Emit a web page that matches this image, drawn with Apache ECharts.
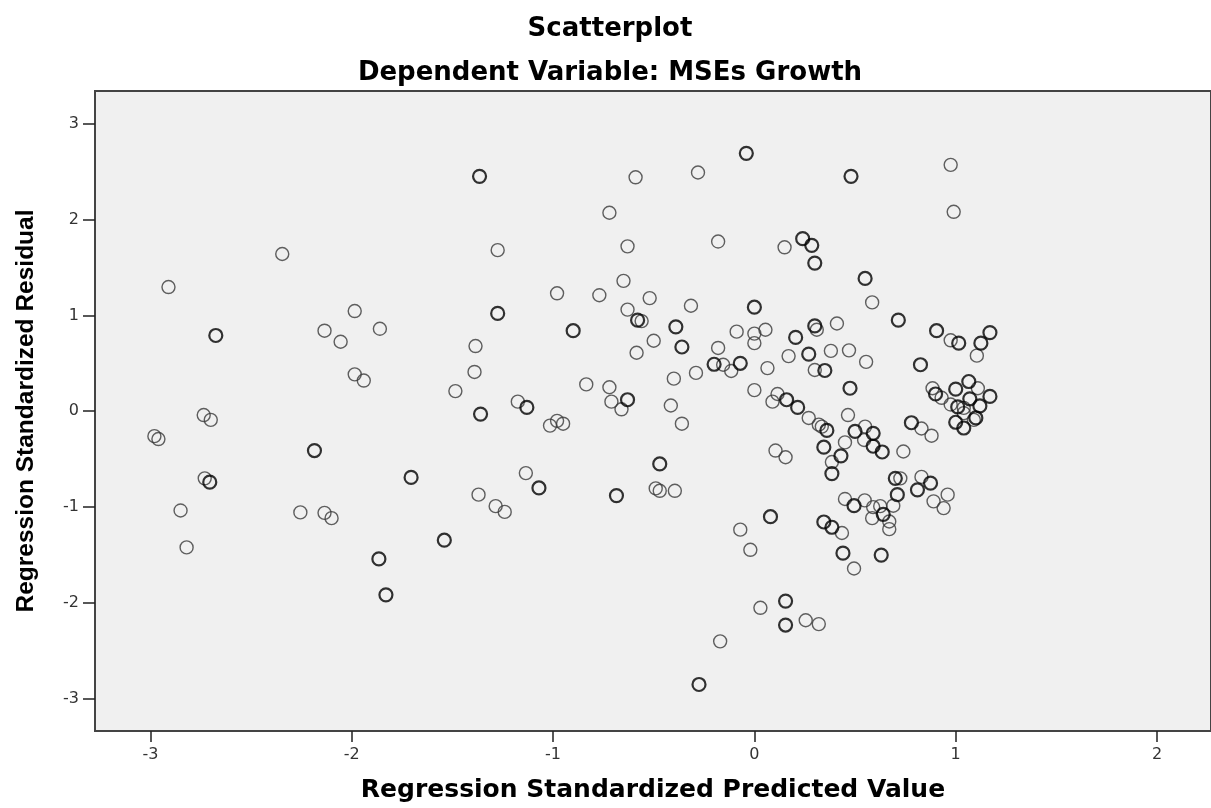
<!DOCTYPE html>
<html>
<head>
<meta charset="utf-8">
<title>Scatterplot</title>
<script src="https://cdn.jsdelivr.net/npm/echarts@6/dist/echarts.min.js"></script>
<style>
  html, body { margin: 0; padding: 0; background: #fff; }
  #chart { width: 1211px; height: 808px; }
</style>
</head>
<body>
<div id="chart"></div>
<script>
// values (standardized predicted value / residual)
// cases = 2 where two circles sit on top of each other (drawn darker)
var predicted = [
  -2.98, -2.96, -2.91, -2.85, -2.82, -2.735, -2.70, -2.73, -2.705, -2.675,
  -2.345, -2.255, -2.185, -2.135, -2.135, -2.10, -2.055, -1.985, -1.985, -1.94,
  -1.86, -1.865, -1.83, -1.705, -1.54, -1.485, -1.39, -1.385, -1.37, -1.365,
  -1.36, -1.285, -1.275, -1.275, -1.24, -1.175, -1.135, -1.13, -1.07, -1.015,
  -0.98, -0.98, -0.95, -0.90, -0.835, -0.77, -0.72, -0.72, -0.71, -0.685,
  -0.66, -0.65, -0.63, -0.63, -0.63, -0.59, -0.585, -0.58, -0.56, -0.52,
  -0.50, -0.49, -0.47, -0.47, -0.415, -0.39, -0.395, -0.40, -0.36, -0.36,
  -0.315, -0.29, -0.28, -0.275, -0.20, -0.18, -0.18, -0.17, -0.155, -0.115,
  -0.088, -0.07, -0.07, -0.04, -0.02, 0.0, 0.0, 0.0, 0.0, 0.03,
  0.055, 0.065, 0.08, 0.09, 0.105, 0.115, 0.15, 0.155, 0.155, 0.155,
  0.16, 0.17, 0.205, 0.215, 0.24, 0.255, 0.27, 0.27, 0.285, 0.30,
  0.30, 0.31, 0.30, 0.32, 0.32, 0.335, 0.345, 0.345, 0.35, 0.36,
  0.385, 0.385, 0.385, 0.38, 0.41, 0.43, 0.435, 0.44, 0.45, 0.45,
  0.465, 0.47, 0.475, 0.48, 0.495, 0.495, 0.50, 0.545, 0.55, 0.548,
  0.555, 0.55, 0.585, 0.59, 0.59, 0.59, 0.585, 0.625, 0.635, 0.64,
  0.63, 0.67, 0.67, 0.69, 0.70, 0.71, 0.725, 0.715, 0.74, 0.78,
  0.83, 0.83, 0.825, 0.875, 0.81, 0.88, 0.885, 0.89, 0.90, 0.905,
  0.93, 0.94, 0.96, 0.975, 0.975, 0.975, 0.99, 1.0, 1.0, 1.015,
  1.01, 1.04, 1.04, 1.04, 1.065, 1.07, 1.09, 1.10, 1.105, 1.11,
  1.12, 1.125, 1.17, 1.17
];
var residual = [
  -0.26, -0.29, 1.295, -1.035, -1.42, -0.04, -0.09, -0.70, -0.74, 0.79,
  1.64, -1.055, -0.41, 0.84, -1.06, -1.115, 0.725, 1.045, 0.385, 0.32,
  0.86, -1.54, -1.915, -0.69, -1.345, 0.21, 0.41, 0.68, -0.87, 2.45,
  -0.03, -0.99, 1.68, 1.02, -1.05, 0.10, -0.645, 0.04, -0.80, -0.15,
  1.23, -0.10, -0.13, 0.84, 0.28, 1.21, 2.07, 0.25, 0.10, -0.88,
  0.02, 1.36, 1.72, 1.06, 0.12, 2.44, 0.61, 0.95, 0.94, 1.18,
  0.735, -0.805, -0.83, -0.55, 0.06, 0.88, -0.83, 0.34, 0.67, -0.13,
  1.10, 0.40, 2.49, -2.85, 0.49, 1.77, 0.66, -2.40, 0.485, 0.42,
  0.83, 0.50, -1.235, 2.69, -1.445, 0.71, 0.81, 1.085, 0.22, -2.05,
  0.85, 0.45, -1.10, 0.10, -0.41, 0.18, 1.71, -0.48, -1.98, -2.23,
  0.12, 0.575, 0.77, 0.04, 1.80, -2.18, 0.595, -0.07, 1.73, 1.545,
  0.89, 0.85, 0.43, -0.14, -2.22, -0.16, -0.375, -1.155, 0.425, -0.20,
  -0.53, -0.65, -1.21, 0.63, 0.915, -0.465, -1.27, -1.48, -0.325, -0.915,
  -0.04, 0.635, 0.24, 2.45, -0.985, -1.64, -0.21, -0.30, -0.16, -0.93,
  0.515, 1.385, 1.135, -0.23, -0.365, -1.0, -1.115, -0.99, -0.425, -1.075,
  -1.50, -1.15, -1.23, -0.985, -0.70, -0.87, -0.70, 0.95, -0.42, -0.12,
  -0.18, -0.685, 0.485, -0.75, -0.82, -0.255, 0.24, -0.94, 0.18, 0.84,
  0.14, -1.01, -0.87, 0.74, 0.07, 2.57, 2.08, 0.23, -0.115, 0.71,
  0.045, -0.02, 0.035, -0.175, 0.31, 0.13, -0.09, -0.07, 0.58, 0.24,
  0.055, 0.71, 0.82, 0.155
];
var cases = [
  1, 1, 1, 1, 1, 1, 1, 1, 2, 2,
  1, 1, 2, 1, 1, 1, 1, 1, 1, 1,
  1, 2, 2, 2, 2, 1, 1, 1, 1, 2,
  2, 1, 1, 2, 1, 1, 1, 2, 2, 1,
  1, 1, 1, 2, 1, 1, 1, 1, 1, 2,
  1, 1, 1, 1, 2, 1, 1, 2, 1, 1,
  1, 1, 1, 2, 1, 2, 1, 1, 2, 1,
  1, 1, 1, 2, 2, 1, 1, 1, 1, 1,
  1, 2, 1, 2, 1, 1, 1, 2, 1, 1,
  1, 1, 2, 1, 1, 1, 1, 1, 2, 2,
  2, 1, 2, 2, 2, 1, 2, 1, 2, 2,
  2, 1, 1, 1, 1, 1, 2, 2, 2, 2,
  1, 2, 2, 1, 1, 2, 1, 2, 1, 1,
  1, 1, 2, 2, 2, 1, 2, 1, 1, 1,
  1, 2, 1, 2, 2, 1, 1, 1, 2, 2,
  2, 1, 1, 1, 2, 2, 1, 2, 1, 2,
  1, 1, 2, 2, 2, 1, 1, 1, 2, 2,
  1, 1, 1, 1, 1, 1, 1, 2, 2, 2,
  2, 1, 1, 2, 2, 2, 1, 2, 1, 1,
  2, 2, 2, 2
];

var xTicks = [-3, -2, -1, 0, 1, 2];
var yTicks = [-3, -2, -1, 0, 1, 2, 3];

var titleText = 'Scatterplot';
var subTitleText = 'Dependent Variable: MSEs Growth';
var xName = 'Regression Standardized Predicted Value';
var yName = 'Regression Standardized Residual';

// split single cases and overlapping ones
var singlePts = [];
var overlapPts = [];
for (var i = 0; i < predicted.length; i++) {
  if (cases[i] > 1) {
    overlapPts.push([predicted[i], residual[i]]);
  } else {
    singlePts.push([predicted[i], residual[i]]);
  }
}

var myChart = echarts.init(document.getElementById('chart'), null, { renderer: 'canvas' });
var option;

option = {
  animation: false,
  backgroundColor: '#ffffff',
  title: [
    {
      text: titleText,
      left: 605,
      top: 11,
      textAlign: 'center',
      textStyle: { fontFamily: 'DejaVu Sans', fontWeight: 'bold', fontSize: 26, color: '#000' }
    },
    {
      text: subTitleText,
      left: 605,
      top: 55,
      textAlign: 'center',
      textStyle: { fontFamily: 'DejaVu Sans', fontWeight: 'bold', fontSize: 26, color: '#000' }
    }
  ],
  grid: {
    left: 95,
    right: -2,
    top: 91,
    bottom: 77,
    show: true,
    backgroundColor: '#f0f0f0',
    borderColor: '#444',
    borderWidth: 2
  },
  xAxis: {
    type: 'value',
    min: -3.275,
    max: 2.268,
    name: xName,
    nameLocation: 'middle',
    nameGap: 47,
    nameTextStyle: { fontFamily: 'DejaVu Sans', fontWeight: 'bold', fontSize: 25, color: '#000' },
    axisLine: { show: false, onZero: false },
    splitLine: { show: false },
    axisTick: {
      show: true,
      inside: false,
      length: 11,
      customValues: xTicks,
      lineStyle: { color: '#222', width: 1.5 }
    },
    axisLabel: {
      customValues: xTicks,
      margin: 16,
      fontFamily: 'DejaVu Sans',
      fontSize: 16,
      color: '#333'
    }
  },
  yAxis: {
    type: 'value',
    min: -3.335,
    max: 3.34,
    name: yName,
    nameLocation: 'middle',
    nameGap: 56,
    nameRotate: 90,
    nameTextStyle: { fontFamily: 'Liberation Sans', fontWeight: 'bold', fontSize: 24.5, color: '#000' },
    axisLine: { show: false, onZero: false },
    splitLine: { show: false },
    axisTick: {
      show: true,
      inside: false,
      length: 12,
      customValues: yTicks,
      lineStyle: { color: '#222', width: 1.5 }
    },
    axisLabel: {
      customValues: yTicks,
      margin: 16,
      fontFamily: 'DejaVu Sans',
      fontSize: 16,
      color: '#333'
    }
  },
  series: [
    {
      name: 'single',
      type: 'scatter',
      symbol: 'circle',
      symbolSize: 13,
      data: singlePts,
      itemStyle: { color: 'rgba(0,0,0,0)', borderColor: '#3a3a3a', borderWidth: 1.4 },
      emphasis: { disabled: true }
    },
    {
      name: 'overlap',
      type: 'scatter',
      symbol: 'circle',
      symbolSize: 13,
      data: overlapPts,
      itemStyle: { color: 'rgba(0,0,0,0)', borderColor: '#000', borderWidth: 2.2 },
      emphasis: { disabled: true }
    }
  ]
};

option && myChart.setOption(option);
</script>
</body>
</html>
